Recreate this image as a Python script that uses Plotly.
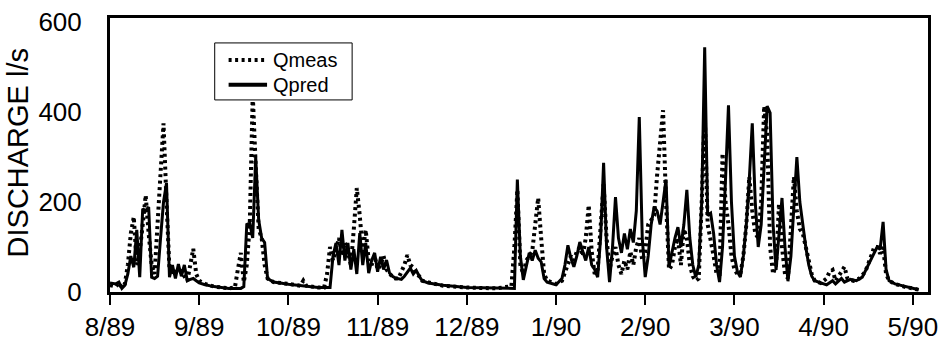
import plotly.graph_objects as go

# Day index from 1 Aug 1989 (ticks every 30 days labelled by month)
tick_days = [0, 30, 60, 90, 120, 150, 180, 210, 240, 270]
tick_labels = ["8/89", "9/89", "10/89", "11/89", "12/89", "1/90", "2/90", "3/90", "4/90", "5/90"]
y_ticks = [0, 200, 400, 600]

pred_day = [0, 2, 3, 4, 5, 6, 7, 8, 9, 10, 11, 12, 13, 14, 15, 16, 17, 18, 19, 20,
            21, 22, 23, 24, 25, 26, 27, 28, 29, 30, 32, 35, 40, 44, 45, 46, 47, 48, 49, 50,
            51, 52, 53, 55, 60, 65, 70, 74, 75, 76, 77, 78, 79, 80, 81, 82, 83, 84, 85, 86,
            87, 88, 89, 90, 91, 92, 93, 94, 95, 96, 97, 98, 99, 100, 101, 102, 103, 104, 105, 107,
            112, 120, 130, 136, 137, 138, 139, 140, 141, 142, 143, 144, 145, 146, 147, 150, 152, 153, 154, 155,
            156, 157, 158, 159, 160, 161, 162, 163, 164, 165, 166, 167, 168, 169, 170, 171, 172, 173, 174, 175,
            176, 177, 178, 179, 180, 181, 182, 183, 184, 185, 186, 187, 188, 189, 190, 191, 192, 193, 194, 195,
            196, 197, 198, 199, 200, 201, 202, 203, 204, 205, 206, 207, 208, 209, 210, 211, 212, 213, 214, 215,
            216, 217, 218, 219, 220, 221, 222, 223, 224, 225, 226, 227, 228, 229, 230, 231, 232, 233, 234, 235,
            236, 237, 239, 241, 243, 244, 246, 247, 249, 251, 253, 255, 257, 258, 259, 260, 261, 262, 264, 267,
            270, 272]
pred_q = [20, 18, 22, 8, 15, 40, 80, 55, 138, 33, 185, 180, 189, 33, 30, 35, 120, 200, 242, 33,
          60, 30, 62, 35, 60, 25, 28, 30, 25, 20, 16, 12, 8, 8, 12, 150, 153, 120, 300, 160,
          120, 110, 30, 22, 17, 14, 10, 10, 80, 109, 60, 138, 70, 109, 50, 95, 40, 131, 60, 109,
          42, 70, 87, 45, 78, 50, 71, 42, 35, 31, 30, 28, 35, 45, 53, 40, 48, 35, 25, 20,
          15, 10, 8, 8, 250, 80, 27, 60, 87, 70, 93, 75, 67, 30, 22, 16, 30, 60, 104, 75,
          56, 80, 111, 90, 70, 100, 60, 50, 33, 120, 287, 100, 22, 100, 211, 120, 87, 130, 95, 140,
          110, 180, 389, 120, 33, 80, 150, 189, 180, 150, 200, 250, 56, 90, 120, 144, 100, 150, 227, 120,
          60, 33, 60, 200, 544, 170, 175, 130, 60, 22, 100, 250, 415, 200, 80, 45, 33, 80, 150, 250,
          375, 200, 100, 150, 300, 413, 398, 150, 49, 120, 209, 100, 24, 80, 200, 300, 200, 144, 100, 60,
          35, 25, 20, 16, 25, 18, 30, 22, 28, 25, 33, 60, 90, 100, 95, 156, 50, 25, 18, 13,
          8, 5]

meas_day = [0, 2, 3, 4, 5, 6, 7, 8, 9, 10, 11, 12, 13, 14, 15, 16, 17, 18, 19, 20,
            21, 22, 23, 24, 25, 26, 27, 28, 29, 30, 32, 35, 40, 42, 43, 44, 45, 46, 47, 48,
            49, 50, 51, 52, 53, 55, 60, 64, 65, 66, 70, 72, 73, 74, 75, 76, 77, 78, 79, 80,
            81, 82, 83, 84, 85, 86, 87, 88, 89, 90, 91, 92, 93, 94, 95, 96, 97, 98, 99, 100,
            101, 102, 103, 104, 105, 108, 112, 120, 130, 135, 136, 137, 138, 139, 140, 141, 142, 143, 144, 145,
            146, 147, 150, 152, 153, 154, 155, 156, 157, 158, 159, 160, 161, 162, 163, 164, 165, 166, 167, 168,
            169, 170, 171, 172, 173, 174, 175, 176, 177, 178, 179, 180, 181, 182, 183, 184, 185, 186, 187, 188,
            189, 190, 191, 192, 193, 194, 195, 196, 197, 198, 199, 200, 201, 202, 203, 204, 205, 206, 207, 208,
            209, 210, 211, 212, 213, 214, 215, 216, 217, 218, 219, 220, 221, 222, 223, 224, 225, 226, 227, 228,
            229, 230, 231, 232, 233, 234, 235, 236, 237, 239, 241, 242, 243, 244, 246, 247, 248, 250, 252, 254,
            256, 257, 258, 259, 260, 261, 262, 264, 267, 270, 272]
meas_q = [15, 12, 20, 10, 18, 60, 130, 167, 60, 90, 150, 215, 130, 60, 40, 150, 290, 375, 200, 50,
          45, 50, 40, 45, 35, 25, 60, 96, 40, 25, 18, 12, 8, 10, 50, 87, 22, 60, 150, 440,
          280, 140, 120, 60, 30, 22, 18, 14, 25, 14, 10, 10, 40, 100, 70, 100, 120, 80, 110, 90,
          60, 140, 231, 170, 90, 138, 70, 60, 80, 50, 60, 80, 50, 40, 35, 30, 30, 45, 60, 82,
          60, 55, 40, 35, 25, 20, 14, 10, 8, 13, 100, 227, 60, 40, 70, 80, 90, 150, 209, 120,
          40, 25, 18, 25, 45, 60, 80, 70, 90, 100, 80, 120, 193, 90, 40, 50, 150, 240, 120, 50,
          80, 100, 60, 40, 70, 50, 90, 60, 100, 120, 70, 90, 150, 160, 170, 260, 330, 404, 200, 50,
          60, 100, 120, 60, 140, 120, 60, 35, 25, 30, 200, 404, 150, 120, 80, 40, 40, 308, 200, 150,
          80, 50, 40, 40, 80, 150, 256, 180, 130, 120, 200, 413, 350, 100, 40, 60, 196, 100, 40, 30,
          150, 256, 180, 140, 130, 100, 80, 40, 25, 20, 30, 45, 49, 25, 45, 56, 30, 25, 30, 45,
          80, 100, 100, 85, 100, 40, 25, 18, 12, 8, 5]

series_names = ["Qmeas", "Qpred"]

FONT = "Liberation Sans, Arial, Helvetica, sans-serif"
MEAS_LINE = dict(color="black", width=4, dash="3px,3.5px")
PRED_LINE = dict(color="black", width=3)

fig = go.Figure()
fig.add_trace(go.Scatter(x=meas_day, y=meas_q, mode="lines", name=series_names[0],
                         line=MEAS_LINE, showlegend=False))
fig.add_trace(go.Scatter(x=pred_day, y=pred_q, mode="lines", name=series_names[1],
                         line=PRED_LINE, showlegend=False))

# Hand-built legend box (paper coordinates)
shapes = [
    dict(type="rect", xref="paper", yref="paper", x0=0.128, x1=0.296, y0=0.701, y1=0.909,
         line=dict(color="black", width=1), fillcolor="white", layer="above"),
    dict(type="line", xref="paper", yref="paper", x0=0.145, x1=0.192, y0=0.847, y1=0.847,
         line=dict(color="black", width=4, dash="3px,3.5px"), layer="above"),
    dict(type="line", xref="paper", yref="paper", x0=0.145, x1=0.192, y0=0.756, y1=0.756,
         line=dict(color="black", width=4), layer="above"),
]
annotations = [
    dict(text=series_names[0], xref="paper", yref="paper", x=0.197, y=0.847,
         xanchor="left", yanchor="middle", showarrow=False, font=dict(size=20, family=FONT)),
    dict(text=series_names[1], xref="paper", yref="paper", x=0.197, y=0.756,
         xanchor="left", yanchor="middle", showarrow=False, font=dict(size=20, family=FONT)),
    dict(text="DISCHARGE l/s", textangle=-90, xref="paper", yref="paper",
         x=-0.112, y=0.507, xanchor="center", yanchor="middle",
         showarrow=False, font=dict(size=29, family=FONT)),
]

fig.update_layout(
    width=942, height=341,
    margin=dict(l=110, r=14, t=18, b=49),
    paper_bgcolor="white", plot_bgcolor="white",
    font=dict(family=FONT, color="black"),
    showlegend=False,
    xaxis=dict(range=[0, 275.1], tickvals=tick_days, ticktext=tick_labels,
               showgrid=False, zeroline=False, showline=True, mirror=True,
               linecolor="black", linewidth=3, ticks="outside", ticklen=10,
               tickwidth=2, tickcolor="black",
               tickfont=dict(size=26, family=FONT), automargin=False),
    yaxis=dict(range=[0, 609], tickvals=y_ticks, showgrid=False, zeroline=False,
               showline=True, mirror=True, linecolor="black", linewidth=3,
               ticks="outside", ticklen=20, tickcolor="rgba(0,0,0,0)",
               tickfont=dict(size=26, family=FONT), automargin=False),
    shapes=shapes,
    annotations=annotations,
)

fig.write_html("out.html")
